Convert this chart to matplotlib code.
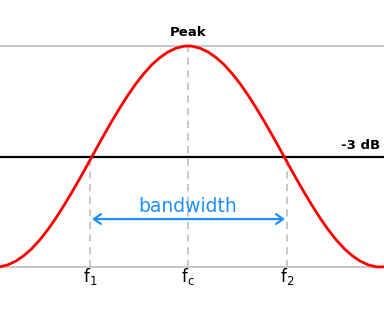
import matplotlib
matplotlib.use("Agg")
import matplotlib.pyplot as plt

# response curve (x in px, y as fraction of peak)
curve_x = [0, 8, 16, 24, 32, 40, 48, 56, 64, 72, 80, 88, 96, 104, 112, 120, 128,
           136, 144, 152, 160, 168, 176, 184, 188, 192, 200, 208, 216, 224, 232,
           240, 248, 256, 264, 272, 280, 288, 296, 304, 312, 320, 328, 336, 344,
           352, 360, 368, 376, 380, 384]
curve_y = [0.001, 0.010, 0.027, 0.052, 0.084, 0.124, 0.170, 0.222, 0.279, 0.339,
           0.402, 0.467, 0.533, 0.598, 0.661, 0.721, 0.778, 0.830, 0.876, 0.916,
           0.948, 0.973, 0.990, 0.999, 1.000, 0.999, 0.990, 0.973, 0.948, 0.916,
           0.876, 0.830, 0.778, 0.721, 0.661, 0.598, 0.533, 0.467, 0.402, 0.339,
           0.279, 0.222, 0.170, 0.124, 0.084, 0.052, 0.027, 0.010, 0.001, 0.000, 0.001]

peak_level = 1.0
half_level = 0.5
freq_pos = [90, 188, 287]
freq_top = [0.5, 1.0, 0.5]
freq_labels = [r"$\mathregular{f_1}$", r"$\mathregular{f_c}$", r"$\mathregular{f_2}$"]

fig = plt.figure(figsize=(3.84, 3.09), dpi=100)
ax = fig.add_axes([0, 0, 1, 1])
ax.set_xlim(0, 384)
ax.set_ylim(-42 / 221, 267 / 221)
ax.axis("off")

gray = "#c4c4c4"
ax.axhline(peak_level, color=gray, lw=1.3)
ax.axhline(0, color=gray, lw=1.3)

for x, top in zip(freq_pos, freq_top):
    ax.plot([x, x], [0, top], color=gray, lw=1.3, ls=(0, (4, 3)))

ax.axhline(half_level, color="black", lw=1.6)
ax.plot(curve_x, curve_y, color="#ff0000", lw=2.0, solid_capstyle="round")

ax.annotate("", xy=(freq_pos[0] + 2, 0.217), xytext=(freq_pos[2] - 2, 0.217),
            arrowprops=dict(arrowstyle="<->,head_length=0.5,head_width=0.35",
                            color="#1e8fff", lw=1.6, shrinkA=0, shrinkB=0))
ax.text(188, 0.275, "bandwidth", color="#1e8fff", fontsize=13.5, ha="center", va="center")

ax.text(188, 1.06, "Peak", fontsize=9.5, fontweight="semibold", ha="center", va="center")
ax.text(380, 0.55, "-3 dB", fontsize=9.5, fontweight="semibold", ha="right", va="center")

for x, lab in zip(freq_pos, freq_labels):
    ax.text(x, -0.045, lab, fontsize=12, ha="center", va="center")

fig.savefig("out.png", dpi=100)
